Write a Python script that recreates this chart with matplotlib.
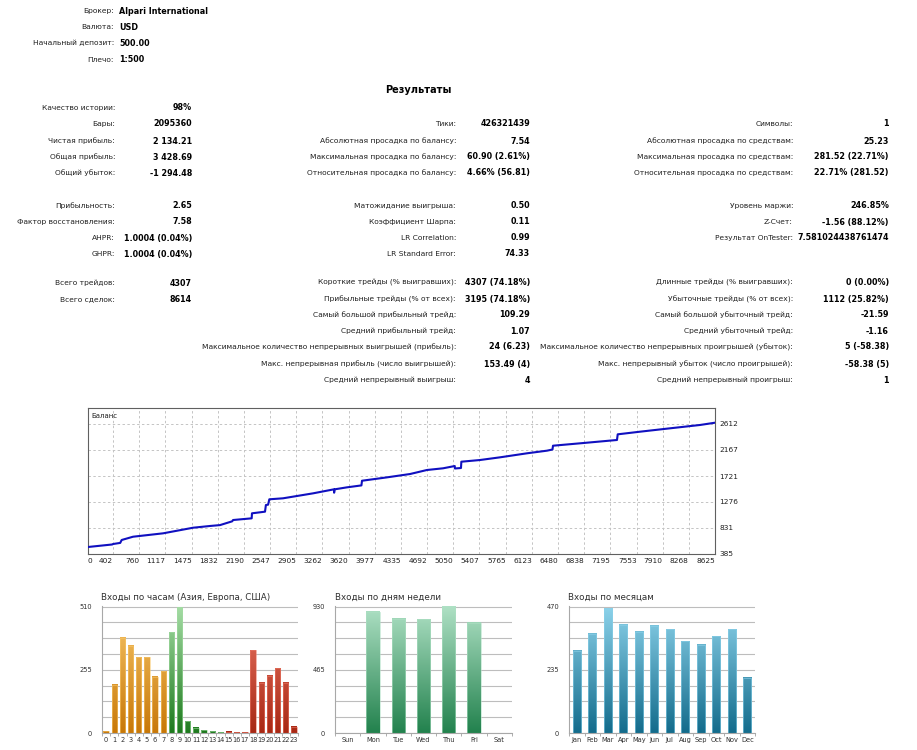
"""MT5 strategy tester report: summary table, balance curve and entry histograms."""

import matplotlib

matplotlib.use("Agg")
import matplotlib.pyplot as plt
import numpy as np
from matplotlib.colors import LinearSegmentedColormap
from matplotlib.patches import Rectangle

plt.rcParams["font.family"] = ["DejaVu Sans"]

W, H = 917, 750

# ---- report text ----
header_labels = ["Брокер:", "Валюта:", "Начальный депозит:", "Плечо:"]
header_values = ["Alpari International", "USD", "500.00", "1:500"]

col1_rows = [0, 1, 2, 3, 4, 5, 6, 7, 8, 9, 10]
col1_labels = ["Качество истории:", "Бары:", "Чистая прибыль:", "Общая прибыль:",
               "Общий убыток:", "Прибыльность:", "Фактор восстановления:",
               "AHPR:", "GHPR:", "Всего трейдов:", "Всего сделок:"]
col1_values = ["98%", "2095360", "2 134.21", "3 428.69", "-1 294.48", "2.65",
               "7.58", "1.0004 (0.04%)", "1.0004 (0.04%)", "4307", "8614"]

col2_rows = [1, 2, 3, 4, 5, 6, 7, 8, 9, 10, 11, 12, 13, 14, 15]
col2_labels = ["Тики:", "Абсолютная просадка по балансу:",
               "Максимальная просадка по балансу:",
               "Относительная просадка по балансу:", "Матожидание выигрыша:",
               "Коэффициент Шарпа:", "LR Correlation:", "LR Standard Error:",
               "Короткие трейды (% выигравших):", "Прибыльные трейды (% от всех):",
               "Самый большой прибыльный трейд:", "Средний прибыльный трейд:",
               "Максимальное количество непрерывных выигрышей (прибыль):",
               "Макс. непрерывная прибыль (число выигрышей):",
               "Средний непрерывный выигрыш:"]
col2_values = ["426321439", "7.54", "60.90 (2.61%)", "4.66% (56.81)", "0.50",
               "0.11", "0.99", "74.33", "4307 (74.18%)", "3195 (74.18%)",
               "109.29", "1.07", "24 (6.23)", "153.49 (4)", "4"]

col3_rows = [1, 2, 3, 4, 5, 6, 7, 9, 10, 11, 12, 13, 14, 15]
col3_labels = ["Символы:", "Абсолютная просадка по средствам:",
               "Максимальная просадка по средствам:",
               "Относительная просадка по средствам:", "Уровень маржи:",
               "Z-Счет:", "Результат OnTester:",
               "Длинные трейды (% выигравших):", "Убыточные трейды (% от всех):",
               "Самый большой убыточный трейд:", "Средний убыточный трейд:",
               "Максимальное количество непрерывных проигрышей (убыток):",
               "Макс. непрерывный убыток (число проигрышей):",
               "Средний непрерывный проигрыш:"]
col3_values = ["1", "25.23", "281.52 (22.71%)", "22.71% (281.52)", "246.85%",
               "-1.56 (88.12%)", "7.581024438761474", "0 (0.00%)",
               "1112 (25.82%)", "-21.59", "-1.16", "5 (-58.38)", "-58.38 (5)", "1"]

# ---- balance curve (deal number, balance) ----
bal_x = [60, 390, 402, 500, 520, 675, 1085, 1495, 1727, 1863, 2030, 2041, 2296,
         2300, 2478, 2490, 2520, 2537, 2724, 3134, 3420, 3422, 3430, 3598, 3795,
         3803, 4145, 4459, 4690, 4910, 5070, 5072, 5155, 5160, 5415, 5688, 6057,
         6330, 6405, 6412, 6781, 7286, 7296, 7600, 8010, 8420, 8625]
bal_y = [505, 548, 556, 575, 625, 681, 739, 835, 865, 880, 945, 967, 996,
         1082, 1110, 1224, 1230, 1322, 1339, 1424, 1493, 1435, 1493, 1527, 1560,
         1640, 1698, 1755, 1824, 1853, 1892, 1850, 1858, 1966, 1995, 2041, 2110,
         2155, 2175, 2240, 2281, 2338, 2435, 2480, 2538, 2595, 2634]
bal_xticks = [0, 402, 760, 1117, 1475, 1832, 2190, 2547, 2905, 3262, 3620, 3977,
              4335, 4692, 5050, 5407, 5765, 6123, 6480, 6838, 7195, 7553, 7910,
              8268, 8625]
bal_yticks = [385, 831, 1276, 1721, 2167, 2612]

# ---- entry histograms ----
hours = list(range(24))
hour_counts = [8, 195, 384, 351, 306, 306, 226, 249, 407, 507, 48, 22, 12, 8,
               4, 6, 3, 4, 333, 203, 230, 262, 202, 25]
hour_max = 510
days = ["Sun", "Mon", "Tue", "Wed", "Thu", "Fri", "Sat"]
day_counts = [0, 893, 840, 835, 927, 812, 0]
day_max = 930
months = ["Jan", "Feb", "Mar", "Apr", "May", "Jun", "Jul", "Aug", "Sep", "Oct",
          "Nov", "Dec"]
month_counts = [305, 369, 461, 402, 377, 398, 385, 340, 328, 359, 385, 205]
month_max = 470


def fx(x):
    return x / W


def fy(y):
    return 1 - y / H


def axes_box(left, top, right, bottom):
    return [fx(left), fy(bottom), fx(right) - fx(left), fy(top) - fy(bottom)]


fig = plt.figure(figsize=(W / 100, H / 100), dpi=100)
fig.patch.set_facecolor("white")

FS_LAB = 5.4   # regular labels
FS_VAL = 5.8   # bold values
label_col = "#202020"

for i, (lab, val) in enumerate(zip(header_labels, header_values)):
    y = [11, 27, 43, 60][i]
    fig.text(fx(114), fy(y), lab, ha="right", va="center", fontsize=FS_LAB,
             color=label_col)
    fig.text(fx(119), fy(y), val, ha="left", va="center", fontsize=FS_VAL,
             fontweight="bold")

fig.text(fx(418), fy(90), "Результаты", ha="center", va="center", fontsize=7,
         fontweight="bold")

row_y = [108, 124, 141, 157, 173, 206, 222, 238, 254, 283, 299, 315, 331, 347,
         364, 380]
columns = [
    (col1_rows, col1_labels, col1_values, 115, 192),
    (col2_rows, col2_labels, col2_values, 456, 530),
    (col3_rows, col3_labels, col3_values, 793, 889),
]
for rows, labels, values, lx, vx in columns:
    for r, lab, val in zip(rows, labels, values):
        y = row_y[r]
        fig.text(fx(lx), fy(y), lab, ha="right", va="center", fontsize=FS_LAB,
                 color=label_col)
        fig.text(fx(vx), fy(y), val, ha="right", va="center", fontsize=FS_VAL,
                 fontweight="bold")

# ---- balance chart ----
ax = fig.add_axes(axes_box(88, 408, 715, 554))
ax.plot(bal_x, bal_y, color="#1010C0", lw=1.5, zorder=3)
ax.set_xlim(60, 8625)
ax.set_ylim(385, 2886)
ax.set_xticks([60] + bal_xticks[1:])
ax.set_xticklabels([str(t) for t in bal_xticks], fontsize=5.3, color="#202020")
for k, tl in enumerate(ax.get_xticklabels()):
    tl.set_ha("left" if k == 0 else "right")
ax.yaxis.tick_right()
ax.set_yticks(bal_yticks)
ax.set_yticklabels([str(t) for t in bal_yticks], fontsize=5.3, color="#202020")
ax.tick_params(length=0, pad=3)
ax.grid(True, color="#C4C4C4", linestyle=(0, (2.5, 2.5)), lw=0.7)
for s in ax.spines.values():
    s.set_color("#606060")
    s.set_linewidth(0.8)
ax.text(0.005, 0.965, "Баланс", transform=ax.transAxes, fontsize=5, va="top",
        ha="left", color="#202020")


def grad_bars(a, values, width, colors, ymax):
    for i, v in enumerate(values):
        if v <= 0:
            continue
        c_bot, c_top = colors[i]
        cmap = LinearSegmentedColormap.from_list("g", [c_bot, c_top])
        grad = np.linspace(0, v / ymax, 64).reshape(-1, 1)
        a.imshow(grad, cmap=cmap, vmin=0, vmax=1, origin="lower", aspect="auto",
                 extent=[i - width / 2, i + width / 2, 0, v],
                 interpolation="bilinear", zorder=2)
        a.add_patch(Rectangle((i - width / 2, 0), width, v, fill=False,
                              edgecolor=c_top, lw=0.5, alpha=0.8, zorder=3))


def style_bar_axes(a, labels, ymax, xlim, title, title_x):
    a.set_xlim(*xlim)
    a.set_ylim(0, ymax * 1.004)
    a.set_aspect("auto")
    a.set_xticks(range(len(labels)))
    a.set_xticklabels(labels, fontsize=4.8, color="#303030")
    a.set_xticks(np.arange(-0.5, len(labels)), minor=True)
    a.tick_params(axis="x", which="major", length=0, pad=3)
    a.tick_params(axis="x", which="minor", length=2.5, color="#A0A0A0")
    a.set_yticks([0, ymax / 2, ymax])
    a.set_yticklabels([str(int(t)) for t in [0, ymax / 2, ymax]], fontsize=4.8,
                      color="#303030")
    a.set_yticks(np.linspace(0, ymax, 9), minor=True)
    a.tick_params(axis="y", which="both", length=0, pad=7)
    a.yaxis.grid(True, which="both", color="#BDBDBD", lw=0.8, zorder=0)
    a.set_axisbelow(True)
    for s in ["top", "right"]:
        a.spines[s].set_visible(False)
    for s in ["left", "bottom"]:
        a.spines[s].set_color("#A8A8A8")
        a.spines[s].set_linewidth(0.8)
    fig.text(fx(title_x), fy(597), title, ha="left", va="center", fontsize=6.3,
             color="#303030")


asia = ("#C87808", "#F8C86C")
europe = ("#1E7A1E", "#A4DCA4")
usa = ("#A82814", "#EC7A68")
hour_colors = [asia if h < 8 else europe if h < 15 else usa for h in hours]

ax_h = fig.add_axes(axes_box(102, 606, 298, 733))
grad_bars(ax_h, hour_counts, 0.66, hour_colors, hour_max)
style_bar_axes(ax_h, [str(h) for h in hours], hour_max, (-0.35, 23.5),
               "Входы по часам (Азия, Европа, США)", 101)

ax_d = fig.add_axes(axes_box(335, 606, 512, 733))
grad_bars(ax_d, day_counts, 0.52, [("#23824E", "#AEE0C4")] * 7, day_max)
style_bar_axes(ax_d, days, day_max, (-0.5, 6.5), "Входы по дням недели", 335)

ax_m = fig.add_axes(axes_box(569, 606, 755, 733))
grad_bars(ax_m, month_counts, 0.52, [("#146C8C", "#8CD2EA")] * 12, month_max)
style_bar_axes(ax_m, months, month_max, (-0.5, 11.5), "Входы по месяцам", 568)

fig.savefig("out.png", dpi=100, facecolor="white")
